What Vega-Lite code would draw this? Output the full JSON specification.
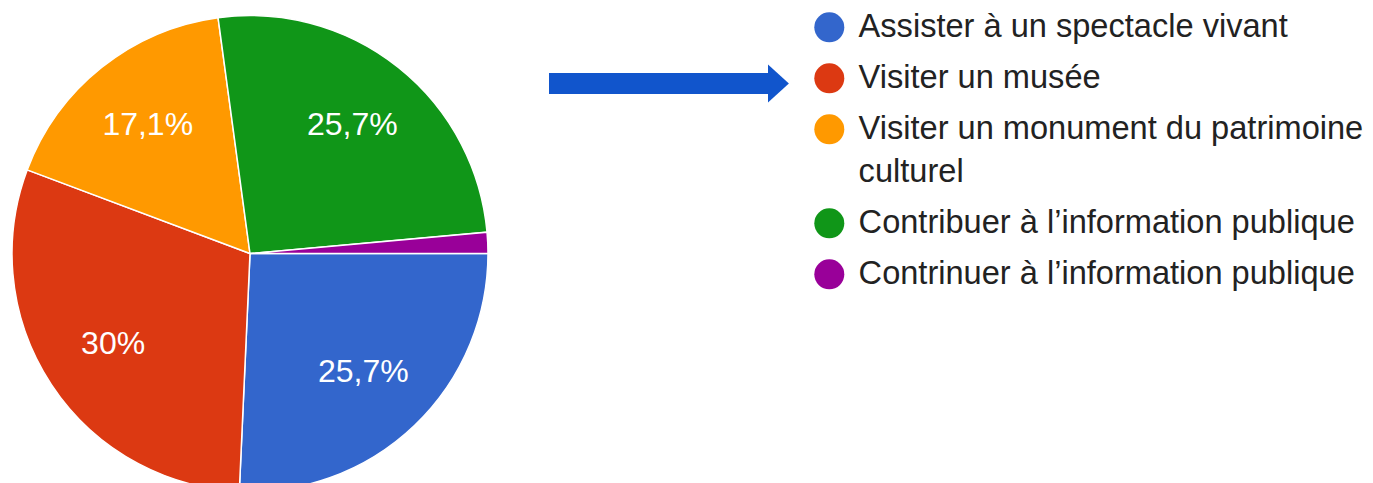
{
  "$schema": "https://vega.github.io/schema/vega-lite/v6.json",
  "padding": 0,
  "background": "white",
  "spacing": 38,
  "config": {"view": {"stroke": null}, "font": "Liberation Sans", "style": {"guide-label": {"lineHeight": 43}}},
  "hconcat": [
    {
      "width": 500,
      "height": 483,
      "data": {"values": [
        {"activite": "Assister à un spectacle vivant", "reponses": 18, "ordre": 1, "etiquette": "25,7%"},
        {"activite": "Visiter un musée", "reponses": 21, "ordre": 2, "etiquette": "30%"},
        {"activite": "Visiter un monument du patrimoine culturel", "reponses": 12, "ordre": 3, "etiquette": "17,1%"},
        {"activite": "Contribuer à l’information publique", "reponses": 18, "ordre": 4, "etiquette": "25,7%"},
        {"activite": "Contrinuer à l’information publique", "reponses": 1, "ordre": 5, "etiquette": ""}
      ]},
      "encoding": {
        "theta": {"field": "reponses", "type": "quantitative", "stack": true, "scale": {"range": [1.5708, 7.854]}},
        "order": {"field": "ordre", "type": "quantitative"}
      },
      "layer": [
        {
          "mark": {"type": "arc", "radius": 238, "yOffset": 12, "stroke": "white", "strokeWidth": 1.5, "clip": true},
          "encoding": {
            "color": {
              "field": "activite",
              "type": "nominal",
              "scale": {
                "domain": ["Assister à un spectacle vivant", "Visiter un musée", "Visiter un monument du patrimoine culturel", "Contribuer à l’information publique", "Contrinuer à l’information publique"],
                "range": ["#3366cc", "#dc3912", "#ff9900", "#109618", "#990099"]
              },
              "legend": {
                "orient": "none",
                "legendX": 813,
                "legendY": 11,
                "title": null,
                "padding": 0,
                "symbolType": "circle",
                "symbolSize": 900,
                "symbolStrokeWidth": 0,
                "symbolOpacity": 1,
                "labelFont": "Liberation Sans",
                "labelFontSize": 32.6,
                "labelColor": "#222222",
                "labelOffset": 13,
                "labelLimit": 1000,
                "rowPadding": 18,
                "labelExpr": "datum.label == 'Visiter un monument du patrimoine culturel' ? ['Visiter un monument du patrimoine', 'culturel'] : datum.label"
              }
            }
          }
        },
        {
          "mark": {"type": "text", "radius": 164, "yOffset": 12, "fontSize": 32, "font": "Liberation Sans", "color": "white"},
          "encoding": {"text": {"field": "etiquette", "type": "nominal"}}
        }
      ]
    },
    {
      "width": 240,
      "height": 167,
      "data": {"values": [{"debut": 0, "fin": 0.9125, "milieu": 0.5}]},
      "layer": [
        {
          "mark": {"type": "rule", "color": "#1155cc", "strokeWidth": 21, "strokeCap": "butt"},
          "encoding": {
            "x": {"field": "debut", "type": "quantitative", "scale": {"domain": [0, 1]}, "axis": null},
            "x2": {"field": "fin"},
            "y": {"field": "milieu", "type": "quantitative", "scale": {"domain": [0, 1]}, "axis": null}
          }
        },
        {
          "mark": {"type": "point", "shape": "M0,-1L1.1,0L0,1Z", "size": 1444, "filled": true, "color": "#1155cc", "opacity": 1},
          "encoding": {
            "x": {"field": "fin", "type": "quantitative", "scale": {"domain": [0, 1]}, "axis": null},
            "y": {"field": "milieu", "type": "quantitative", "scale": {"domain": [0, 1]}, "axis": null}
          }
        }
      ]
    }
  ]
}
